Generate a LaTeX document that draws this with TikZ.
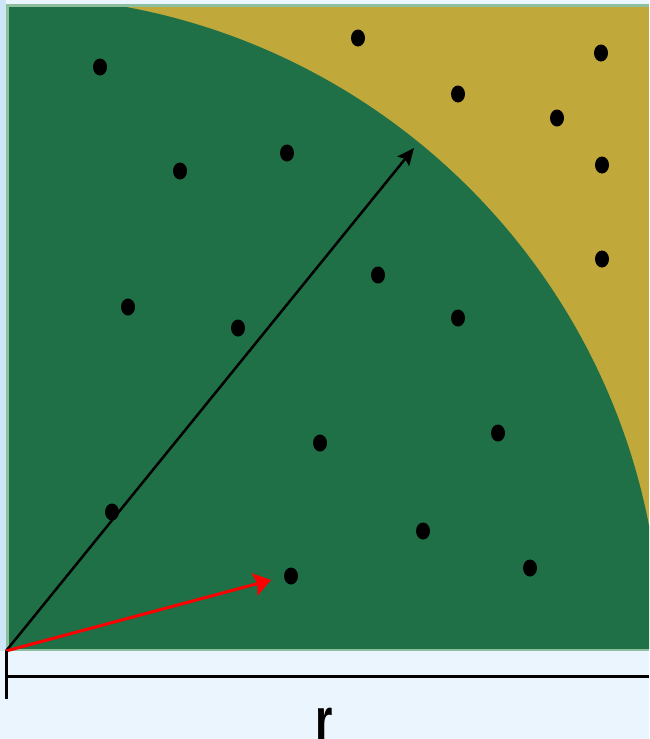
\documentclass[tikz,border=0pt]{standalone}
\usepackage{fontspec}
\setmainfont{Liberation Sans}
\usetikzlibrary{arrows.meta,shapes.geometric}
\definecolor{bgblue}{HTML}{EBF5FD}
\definecolor{edgeblue}{HTML}{CDE6F7}
\definecolor{fgreen}{HTML}{1F7047}
\definecolor{fgold}{HTML}{C0A83A}
\definecolor{rimgreen}{HTML}{8DBE9E}
\tikzset{
  dot/.style={fill=black,ellipse,inner sep=0pt,minimum width=14pt,minimum height=17pt},
  vecblack/.style={line width=2.5pt,-{Stealth[length=17pt,width=15pt,inset=3pt]}},
  vecred/.style={line width=3pt,-{Stealth[length=17pt,width=23pt,inset=3pt]}},
  rule/.style={line width=3pt}
}
\begin{document}
\begin{tikzpicture}[x=1pt,y=-1pt]
\useasboundingbox (0,0) rectangle (649,739);
\fill[bgblue] (0,0) rectangle (649,739);
\fill[edgeblue] (0,0) rectangle (6,651);
% square region
\fill[rimgreen] (6,4) rectangle (649,651);
\fill[fgold] (9,7) rectangle (649,648);
\coordinate (o) at (6,651);
\begin{scope}
\clip (9,7) rectangle (649,648);
\fill[fgreen] (o) circle[radius=655];
\end{scope}
% dots
\foreach \p/\q [count=\i] in {100/67,358/38,601/53,458/94,557/118,602/165,180/171,287/153,602/259,128/307,238/328,378/275,458/318,320/443,498/433,112/512,423/531,291/576,530/568}
  \node[dot] (d\i) at (\p,\q) {};
% vectors
\coordinate (tipk) at (414,148);
\coordinate (tipr) at (271,580);
\draw[vecblack,black] (o) -- (tipk);
\draw[vecred,red] (o) -- (tipr);
% scale bar
\coordinate (tt) at (6,651);
\coordinate (tb) at (6,699);
\coordinate (hl) at (6,676);
\coordinate (hr) at (649,676);
\draw[rule] (tt) -- (tb);
\draw[rule] (hl) -- (hr);
\node[anchor=base,inner sep=0pt,xscale=0.72,font=\fontsize{62}{62}\selectfont\bfseries] (r) at (324,741) {r};
\end{tikzpicture}
\end{document}
